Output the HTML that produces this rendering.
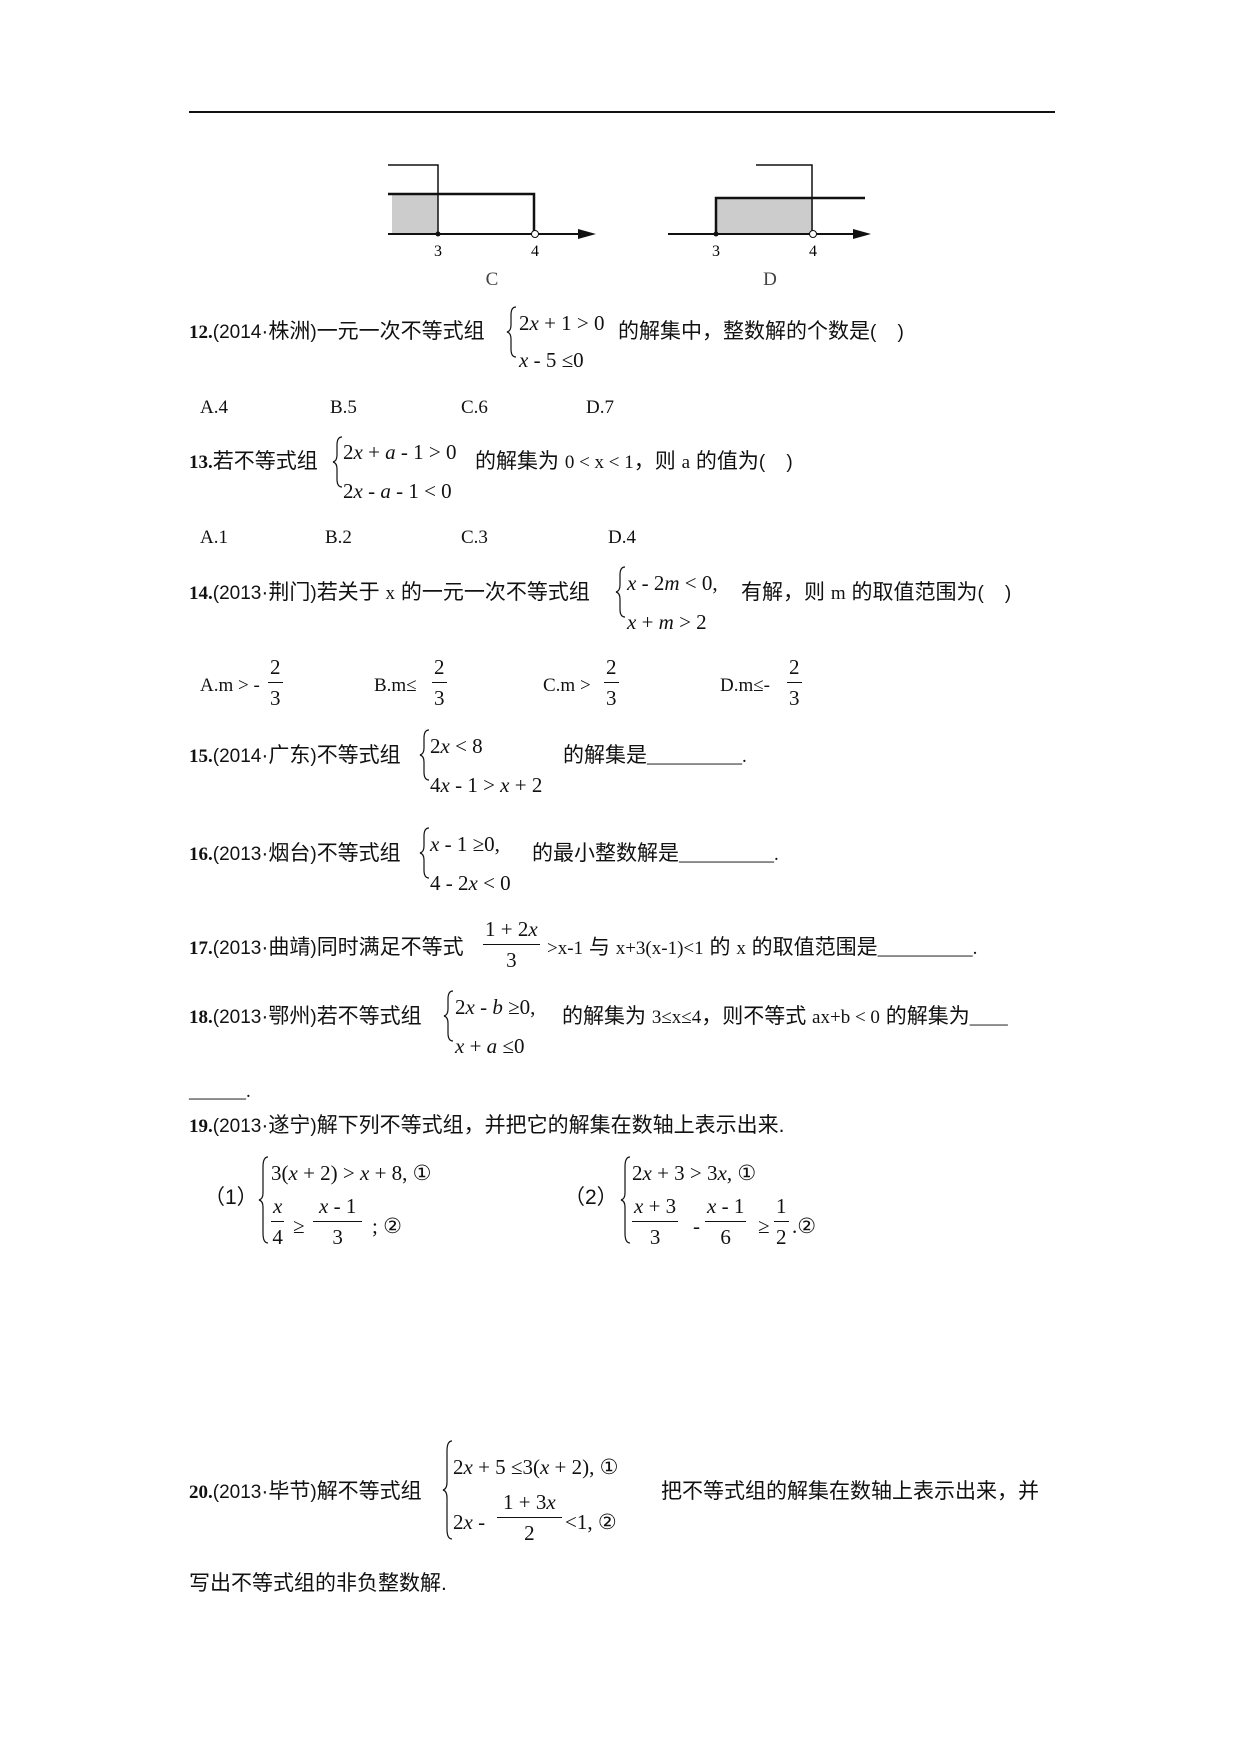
<!DOCTYPE html>
<html><head><meta charset="utf-8">
<style>
body{margin:0;background:#fff;}
#p{position:relative;width:1240px;height:1754px;overflow:hidden;font-family:"Liberation Serif","Noto Sans CJK SC",serif;font-size:19px;color:#111;}
.t{position:absolute;white-space:nowrap;line-height:24px;}
.c{font-family:"Liberation Sans","Noto Sans CJK SC",sans-serif;font-size:21px;}
.c span{font-size:19px;}
.m{font-family:"Liberation Serif",serif;font-size:21px;}
i{font-style:italic;}
b{font-weight:bold;font-family:"Liberation Serif",serif;font-size:19px;}
.f{position:absolute;text-align:center;font-family:"Liberation Serif",serif;font-size:21px;line-height:24px;}
.f span{display:block;}
.f .n{border-bottom:1.3px solid #111;padding:0 2px 3px;}
.f .d{padding-top:3px;}
svg{position:absolute;}
</style></head><body><div id="p">
<div style="position:absolute;left:189px;top:111px;width:866px;height:2px;background:#111"></div>

<svg style="left:0;top:0" width="1240" height="300">
<rect x="392" y="194" width="46" height="40" fill="#ccc"/>
<polyline points="388,165 438,165 438,234" fill="none" stroke="#111" stroke-width="1.5"/>
<polyline points="388,194 534,194 534,234" fill="none" stroke="#111" stroke-width="2.5"/>
<line x1="388" y1="234" x2="580" y2="234" stroke="#111" stroke-width="2"/>
<polygon points="596,234 578,229 578,239" fill="#111"/>
<circle cx="438" cy="234" r="2.5" fill="#111"/>
<circle cx="535" cy="234" r="3.5" fill="#fff" stroke="#111"/>
<text x="438" y="256" font-size="16" text-anchor="middle" font-family="Liberation Serif">3</text>
<text x="535" y="256" font-size="16" text-anchor="middle" font-family="Liberation Serif">4</text>
<text x="492" y="285" font-size="19" text-anchor="middle" font-family="Liberation Serif" fill="#444">C</text>
<rect x="716" y="198" width="97" height="36" fill="#ccc"/>
<polyline points="756,165 812,165 812,234" fill="none" stroke="#111" stroke-width="1.5"/>
<polyline points="716,234 716,198 865,198" fill="none" stroke="#111" stroke-width="2.5"/>
<line x1="668" y1="234" x2="855" y2="234" stroke="#111" stroke-width="2"/>
<polygon points="871,234 853,229 853,239" fill="#111"/>
<circle cx="716" cy="234" r="2.5" fill="#111"/>
<circle cx="813" cy="234" r="3.5" fill="#fff" stroke="#111"/>
<text x="716" y="256" font-size="16" text-anchor="middle" font-family="Liberation Serif">3</text>
<text x="813" y="256" font-size="16" text-anchor="middle" font-family="Liberation Serif">4</text>
<text x="770" y="285" font-size="19" text-anchor="middle" font-family="Liberation Serif" fill="#444">D</text>
</svg>

<svg style="left:0;top:0" width="1240" height="1754" fill="none" stroke="#111" stroke-width="1.2">
<path d="M516,307 q-5,0 -5,8 v10 q0,6 -4,7 q4,1 4,7 v10 q0,8 5,8"/>
<path d="M342,437 q-5,0 -5,8 v10 q0,6 -4,7 q4,1 4,7 v10 q0,8 5,8"/>
<path d="M625,567 q-5,0 -5,8 v10 q0,6 -4,7 q4,1 4,7 v10 q0,8 5,8"/>
<path d="M429,730 q-5,0 -5,8 v10 q0,6 -4,7 q4,1 4,7 v10 q0,8 5,8"/>
<path d="M429,828 q-5,0 -5,8 v10 q0,6 -4,7 q4,1 4,7 v10 q0,8 5,8"/>
<path d="M453,991 q-5,0 -5,8 v10 q0,6 -4,7 q4,1 4,7 v10 q0,8 5,8"/>
<path d="M268,1157 q-5,0 -5,10 v26 q0,6 -4,7 q4,1 4,7 v26 q0,10 5,10"/>
<path d="M630,1157 q-5,0 -5,10 v26 q0,6 -4,7 q4,1 4,7 v26 q0,10 5,10"/>
<path d="M452,1441 q-5,0 -5,10 v31 q0,7 -4,8 q4,1 4,8 v31 q0,10 5,10"/>
</svg>

<div class="t c" style="left:189px;top:320px"><b>12.</b><span>(2014</span>·株洲<span>)</span>一元一次不等式组</div>
<div class="t m" style="left:519px;top:311px">2<i>x</i> + 1 &gt; 0</div>
<div class="t m" style="left:519px;top:348px"><i>x</i> - 5 ≤0</div>
<div class="t c" style="left:618px;top:320px">的解集中，整数解的个数是<span>(&nbsp;&nbsp;&nbsp; )</span></div>
<div class="t" style="left:200px;top:396px">A.4</div>
<div class="t" style="left:330px;top:396px">B.5</div>
<div class="t" style="left:461px;top:396px">C.6</div>
<div class="t" style="left:586px;top:396px">D.7</div>

<div class="t c" style="left:189px;top:450px"><b>13.</b>若不等式组</div>
<div class="t m" style="left:343px;top:440px">2<i>x</i> + <i>a</i> - 1 &gt; 0</div>
<div class="t m" style="left:343px;top:479px">2<i>x</i> - <i>a</i> - 1 &lt; 0</div>
<div class="t c" style="left:475px;top:450px">的解集为 <span style="font-family:'Liberation Serif'">0 &lt; x &lt; 1</span>，则 <span style="font-family:'Liberation Serif'">a</span> 的值为<span>(&nbsp;&nbsp;&nbsp; )</span></div>
<div class="t" style="left:200px;top:526px">A.1</div>
<div class="t" style="left:325px;top:526px">B.2</div>
<div class="t" style="left:461px;top:526px">C.3</div>
<div class="t" style="left:608px;top:526px">D.4</div>

<div class="t c" style="left:189px;top:581px"><b>14.</b><span>(2013</span>·荆门<span>)</span>若关于 <span style="font-family:'Liberation Serif'">x</span> 的一元一次不等式组</div>
<div class="t m" style="left:627px;top:571px"><i>x</i> - 2<i>m</i> &lt; 0,</div>
<div class="t m" style="left:627px;top:610px"><i>x</i> + <i>m</i> &gt; 2</div>
<div class="t c" style="left:741px;top:581px">有解，则 <span style="font-family:'Liberation Serif'">m</span> 的取值范围为<span>(&nbsp;&nbsp;&nbsp; )</span></div>
<div class="t" style="left:200px;top:674px">A.m &gt; -</div>
<div class="f" style="left:268px;top:655px"><span class="n">2</span><span class="d">3</span></div>
<div class="t" style="left:374px;top:674px">B.m≤</div>
<div class="f" style="left:432px;top:655px"><span class="n">2</span><span class="d">3</span></div>
<div class="t" style="left:543px;top:674px">C.m &gt;</div>
<div class="f" style="left:604px;top:655px"><span class="n">2</span><span class="d">3</span></div>
<div class="t" style="left:720px;top:674px">D.m≤-</div>
<div class="f" style="left:787px;top:655px"><span class="n">2</span><span class="d">3</span></div>

<div class="t c" style="left:189px;top:744px"><b>15.</b><span>(2014</span>·广东<span>)</span>不等式组</div>
<div class="t m" style="left:430px;top:734px">2<i>x</i> &lt; 8</div>
<div class="t m" style="left:430px;top:773px">4<i>x</i> - 1 &gt; <i>x</i> + 2</div>
<div class="t c" style="left:563px;top:744px">的解集是<span style="font-family:'Liberation Serif'">__________.</span></div>

<div class="t c" style="left:189px;top:842px"><b>16.</b><span>(2013</span>·烟台<span>)</span>不等式组</div>
<div class="t m" style="left:430px;top:832px"><i>x</i> - 1 ≥0,</div>
<div class="t m" style="left:430px;top:871px">4 - 2<i>x</i> &lt; 0</div>
<div class="t c" style="left:532px;top:842px">的最小整数解是<span style="font-family:'Liberation Serif'">__________.</span></div>

<div class="t c" style="left:189px;top:936px"><b>17.</b><span>(2013</span>·曲靖<span>)</span>同时满足不等式</div>
<div class="f" style="left:483px;top:917px"><span class="n">1 + 2<i>x</i></span><span class="d">3</span></div>
<div class="t c" style="left:547px;top:936px"><span style="font-family:'Liberation Serif'">&gt;x-1</span> 与 <span style="font-family:'Liberation Serif'">x+3(x-1)&lt;1</span> 的 <span style="font-family:'Liberation Serif'">x</span> 的取值范围是<span style="font-family:'Liberation Serif'">__________.</span></div>

<div class="t c" style="left:189px;top:1005px"><b>18.</b><span>(2013</span>·鄂州<span>)</span>若不等式组</div>
<div class="t m" style="left:455px;top:995px">2<i>x</i> - <i>b</i> ≥0,</div>
<div class="t m" style="left:455px;top:1034px"><i>x</i> + <i>a</i> ≤0</div>
<div class="t c" style="left:562px;top:1005px">的解集为 <span style="font-family:'Liberation Serif'">3≤x≤4</span>，则不等式 <span style="font-family:'Liberation Serif'">ax+b &lt; 0</span> 的解集为<span style="font-family:'Liberation Serif'">____</span></div>
<div class="t" style="left:189px;top:1080px">______.</div>

<div class="t c" style="left:189px;top:1114px"><b>19.</b><span>(2013</span>·遂宁<span>)</span>解下列不等式组，并把它的解集在数轴上表示出来.</div>
<div class="t c" style="left:204px;top:1186px">（1）</div>
<div class="t m" style="left:271px;top:1161px">3(<i>x</i> + 2) &gt; <i>x</i> + 8, ①</div>
<div class="f" style="left:271px;top:1194px"><span class="n"><i>x</i></span><span class="d">4</span></div>
<div class="t m" style="left:293px;top:1214px">≥</div>
<div class="f" style="left:313px;top:1194px"><span class="n" style="padding:0 6px 3px"><i>x</i> - 1</span><span class="d">3</span></div>
<div class="t m" style="left:372px;top:1214px">; ②</div>
<div class="t c" style="left:564px;top:1186px">（2）</div>
<div class="t m" style="left:632px;top:1161px">2<i>x</i> + 3 &gt; 3<i>x</i>, ①</div>
<div class="f" style="left:632px;top:1194px"><span class="n"><i>x</i> + 3</span><span class="d">3</span></div>
<div class="t m" style="left:693px;top:1214px">-</div>
<div class="f" style="left:705px;top:1194px"><span class="n"><i>x</i> - 1</span><span class="d">6</span></div>
<div class="t m" style="left:758px;top:1214px">≥</div>
<div class="f" style="left:774px;top:1194px"><span class="n">1</span><span class="d">2</span></div>
<div class="t m" style="left:792px;top:1214px">.②</div>

<div class="t c" style="left:189px;top:1480px"><b>20.</b><span>(2013</span>·毕节<span>)</span>解不等式组</div>
<div class="t m" style="left:453px;top:1455px">2<i>x</i> + 5 ≤3(<i>x</i> + 2), ①</div>
<div class="t m" style="left:453px;top:1510px">2<i>x</i> -</div>
<div class="f" style="left:497px;top:1490px"><span class="n" style="padding:0 6px 3px">1 + 3<i>x</i></span><span class="d">2</span></div>
<div class="t m" style="left:565px;top:1510px">&lt;1, ②</div>
<div class="t c" style="left:661px;top:1480px">把不等式组的解集在数轴上表示出来，并</div>
<div class="t c" style="left:189px;top:1572px">写出不等式组的非负整数解.</div>
</div></body></html>
